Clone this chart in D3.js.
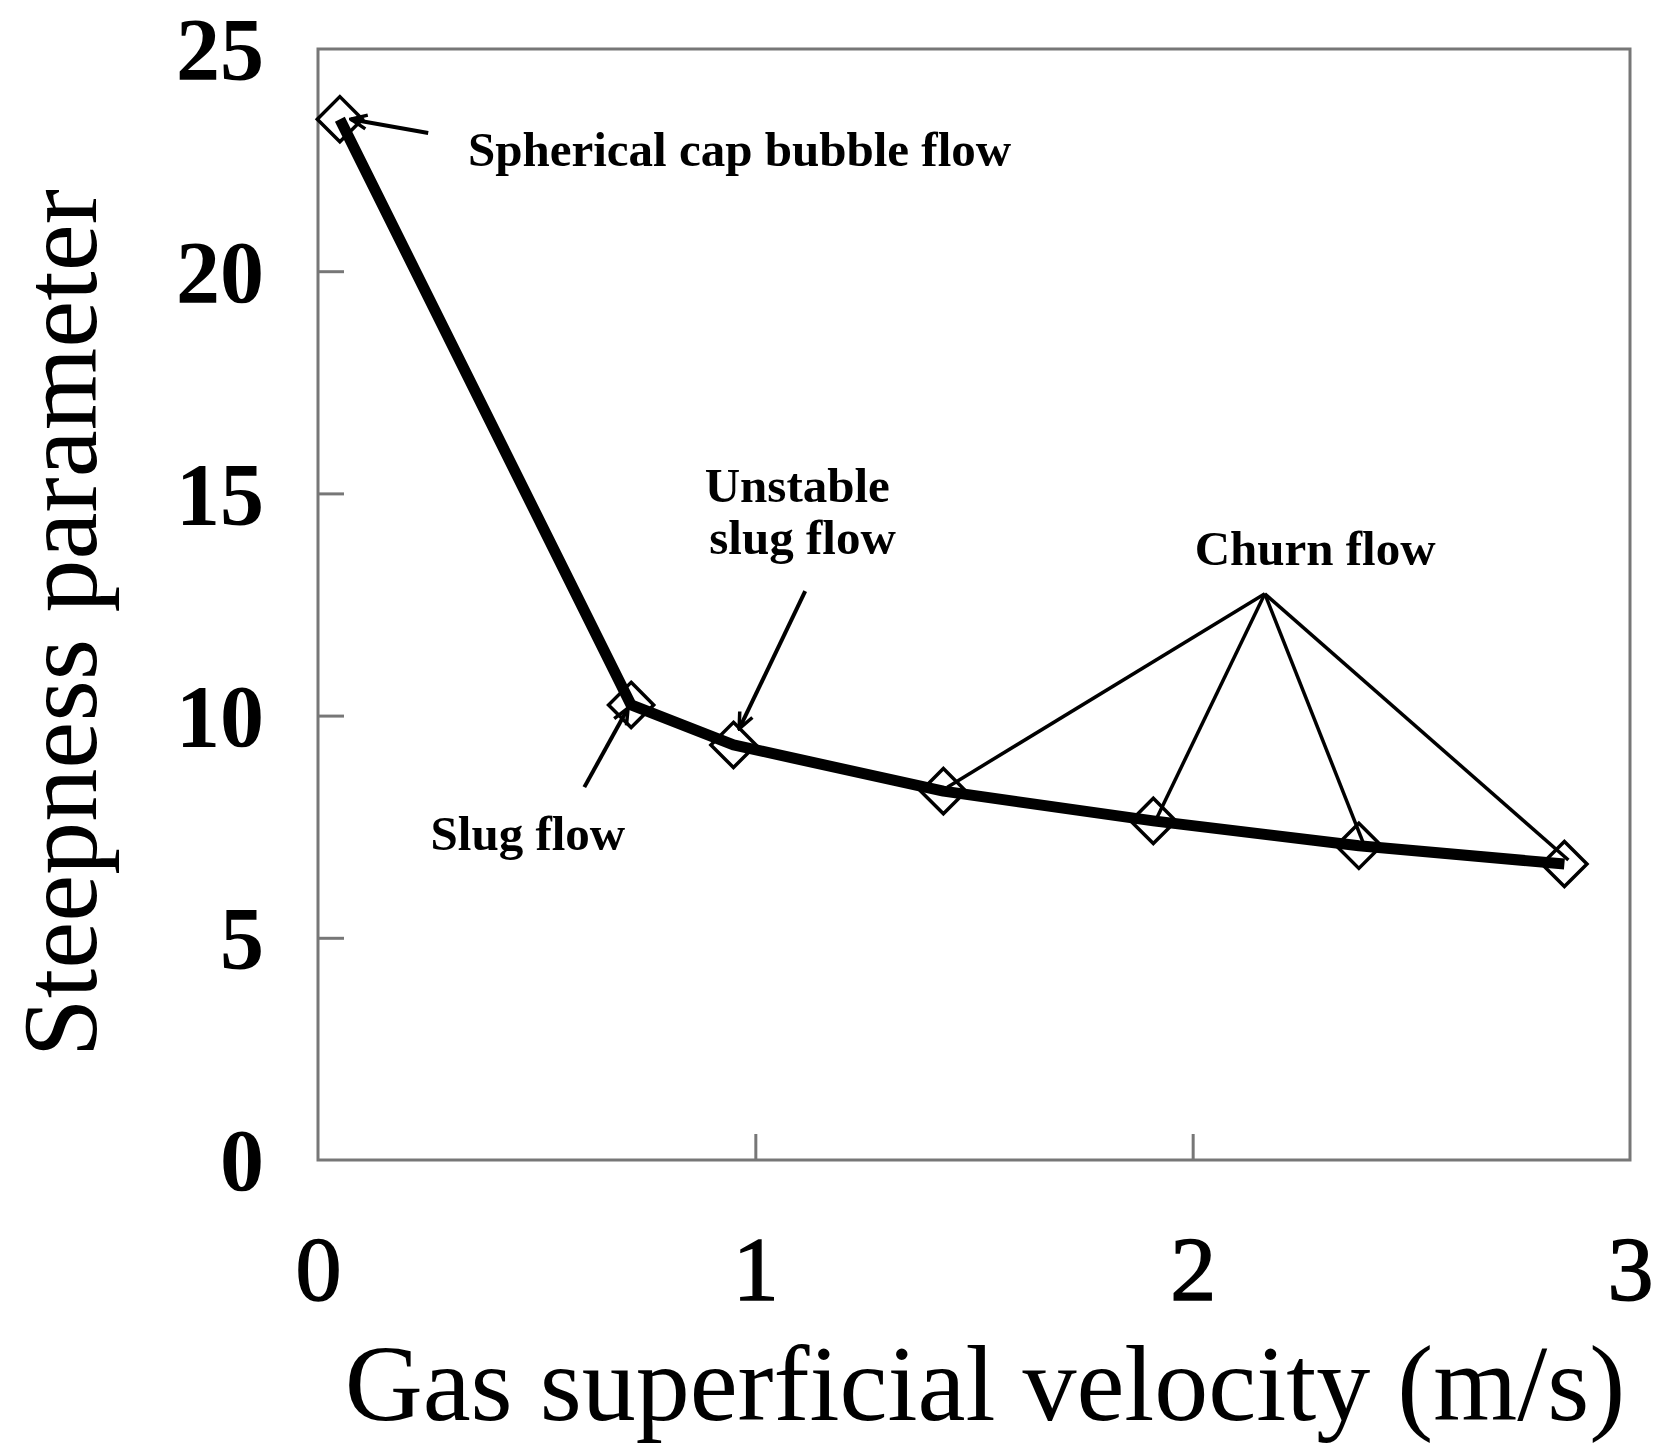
<!DOCTYPE html>
<html>
<head>
<meta charset="utf-8">
<script src="https://cdn.jsdelivr.net/npm/d3@7"></script>
<style>
  html, body { margin: 0; padding: 0; background: #fff; }
  svg { display: block; }
</style>
</head>
<body>
<div id="chart"></div>
<script>
// ---- data ----
const velocity = [0.05, 0.716, 0.95, 1.43, 1.91, 2.38, 2.85];
const steepness = [23.42, 10.24, 9.34, 8.30, 7.63, 7.07, 6.66];
const xTicks = [0, 1, 2, 3];
const yTicks = [0, 5, 10, 15, 20, 25];
const xLabel = "Gas superficial velocity (m/s)";
const yLabel = "Steepness parameter";
// annotations (data coordinates)
const labelTexts = ["Spherical cap bubble flow", "Unstable", "slug flow", "Slug flow", "Churn flow"];
const labelX = [0.343, 1.096, 1.108, 0.48, 2.28];
const labelY = [22.37, 14.8, 13.63, 6.98, 13.39];
const labelAnchor = ["start", "middle", "middle", "middle", "middle"];
const arrowFrom = [[0.252, 23.11], [1.114, 12.80], [0.609, 8.39]];
const arrowTo = [[0.075, 23.42], [0.963, 9.70], [0.709, 10.17]];
const churnApex = [2.165, 12.74];
const churnTargets = [3, 4, 5, 6]; // indices of points

(function () {
// ---- layout ----
const W = 1656, H = 1444;
const mLeft = 318, mRight = 1630, mTop = 49, mBottom = 1160;

const svg = d3.select("#chart").append("svg")
  .attr("width", W).attr("height", H)
  .style("background", "#fff");

const x = d3.scaleLinear().domain([0, 3]).range([mLeft, mRight]);
const y = d3.scaleLinear().domain([0, 25]).range([mBottom, mTop]);

const serif = "'Liberation Serif', 'Times New Roman', serif";

// frame
svg.append("rect")
  .attr("x", mLeft).attr("y", mTop)
  .attr("width", mRight - mLeft).attr("height", mBottom - mTop)
  .attr("fill", "none").attr("stroke", "#777").attr("stroke-width", 3);

// axes with inside ticks
const xAxis = d3.axisBottom(x).tickValues(xTicks).tickSize(-26).tickFormat(d3.format("d")).tickPadding(0);
const gx = svg.append("g").attr("transform", `translate(0,${mBottom})`).call(xAxis);
gx.select(".domain").remove();
gx.selectAll(".tick line").attr("stroke", "#777").attr("stroke-width", 3);
gx.selectAll(".tick line").filter(d => d === 0 || d === 3).remove();
gx.selectAll(".tick text")
  .attr("y", 140).attr("dy", 0)
  .style("font-family", serif).style("font-size", "92px").style("font-weight", "normal")
  .style("stroke", "#000").style("stroke-width", "1.5px")
  .attr("fill", "#000");

const yAxis = d3.axisLeft(y).tickValues(yTicks).tickSize(-26).tickFormat(d3.format("d")).tickPadding(0);
const gy = svg.append("g").attr("transform", `translate(${mLeft},0)`).call(yAxis);
gy.select(".domain").remove();
gy.selectAll(".tick line").attr("stroke", "#777").attr("stroke-width", 3);
gy.selectAll(".tick line").filter(d => d === 0 || d === 25).remove();
gy.selectAll(".tick text")
  .attr("x", -54).attr("dy", "0.34em")
  .style("font-family", serif).style("font-size", "88px").style("font-weight", "bold")
  .attr("fill", "#000");

// axis titles
svg.append("text")
  .attr("x", 985).attr("y", 1420)
  .attr("text-anchor", "middle")
  .style("font-family", serif).style("font-size", "108px")
  .attr("fill", "#000")
  .text(xLabel);

svg.append("text")
  .attr("transform", `translate(96,623) rotate(-90)`)
  .attr("text-anchor", "middle")
  .style("font-family", serif).style("font-size", "106px")
  .attr("fill", "#000")
  .text(yLabel);

// markers (hollow diamonds)
const pts = velocity.map((v, i) => [v, steepness[i]]);
const diamond = d3.symbol().type(d3.symbolDiamond2).size(1300);
svg.append("g").selectAll("path").data(pts).join("path")
  .attr("d", diamond)
  .attr("transform", d => `translate(${x(d[0])},${y(d[1])})`)
  .attr("fill", "#fff").attr("stroke", "#000").attr("stroke-width", 3.5);

// main line
svg.append("path")
  .datum(pts)
  .attr("d", d3.line().x(d => x(d[0])).y(d => y(d[1])))
  .attr("fill", "none").attr("stroke", "#000").attr("stroke-width", 11)
  .attr("stroke-linejoin", "round");

// arrowhead marker
const defs = svg.append("defs");
defs.append("marker")
  .attr("id", "arrow")
  .attr("viewBox", "0 0 20 20")
  .attr("refX", 18).attr("refY", 10)
  .attr("markerWidth", 20).attr("markerHeight", 20)
  .attr("markerUnits", "userSpaceOnUse")
  .attr("orient", "auto")
  .append("path")
  .attr("d", "M2,3 L18,10 L2,17")
  .attr("fill", "none").attr("stroke", "#000").attr("stroke-width", 3.5);

// arrows
svg.append("g").selectAll("line").data(arrowFrom).join("line")
  .attr("x1", d => x(d[0])).attr("y1", d => y(d[1]))
  .attr("x2", (d, i) => x(arrowTo[i][0])).attr("y2", (d, i) => y(arrowTo[i][1]))
  .attr("stroke", "#000").attr("stroke-width", 4)
  .attr("marker-end", "url(#arrow)");

// churn flow lines
svg.append("g").selectAll("line").data(churnTargets).join("line")
  .attr("x1", x(churnApex[0])).attr("y1", y(churnApex[1]))
  .attr("x2", i => x(velocity[i]) + 4).attr("y2", i => y(steepness[i]) - 4)
  .attr("stroke", "#000").attr("stroke-width", 3.5);

// annotation labels
svg.append("g").selectAll("text").data(labelTexts).join("text")
  .attr("x", (d, i) => x(labelX[i])).attr("y", (d, i) => y(labelY[i]))
  .attr("text-anchor", (d, i) => labelAnchor[i])
  .style("font-family", serif).style("font-size", "49px").style("font-weight", "bold")
  .style("letter-spacing", "0px")
  .attr("fill", "#000")
  .text(d => d);
})();
</script>
</body>
</html>
